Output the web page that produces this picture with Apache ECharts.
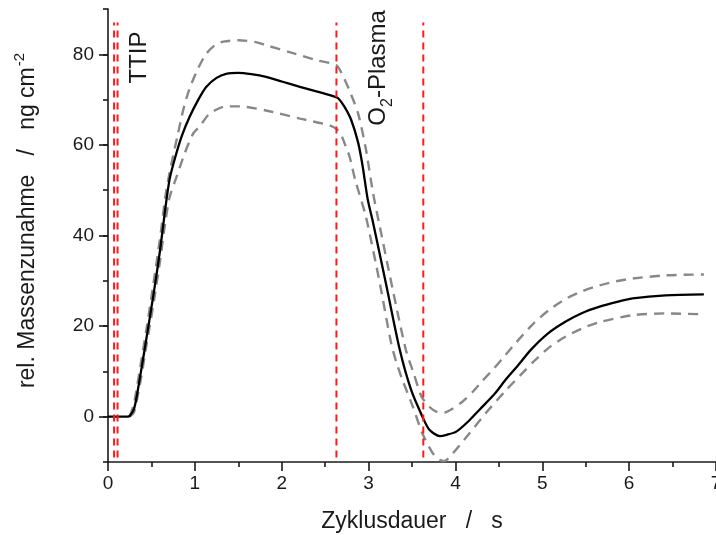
<!DOCTYPE html>
<html>
<head>
<meta charset="utf-8">
<script src="https://cdn.jsdelivr.net/npm/echarts@6/dist/echarts.min.js"></script>
<style>
html,body{margin:0;padding:0;background:#fff;}
#chart{width:716px;height:535px;}
</style>
</head>
<body>
<div id="chart"></div>
<script>
// ---- data ----
const timeMain = [0, 0.1, 0.2, 0.25, 0.3, 0.33, 0.38, 0.44, 0.52, 0.60, 0.66, 0.71, 0.77, 0.85, 0.94, 1.04, 1.13, 1.25, 1.36, 1.5, 1.65, 1.82, 2.0, 2.21, 2.42, 2.6, 2.65, 2.72, 2.8, 2.88, 2.93, 2.99, 3.05, 3.2, 3.36, 3.49, 3.62, 3.70, 3.82, 3.9, 4.01, 4.15, 4.28, 4.45, 4.58, 4.72, 4.87, 5.06, 5.27, 5.46, 5.66, 5.85, 6.04, 6.42, 6.86];
const massMain = [0, 0, 0, 0.2, 1.8, 4.4, 10, 17, 26.5, 36.8, 46, 52.5, 57, 62, 66.2, 70, 72.8, 74.8, 75.7, 75.9, 75.6, 75, 74, 72.8, 71.7, 70.7, 70.3, 68.5, 65.5, 60.5, 55.5, 48, 43, 29.4, 14.7, 5.9, 0, -2.9, -4.3, -4.0, -3.3, -1, 1.6, 5.0, 8.2, 11.3, 14.8, 18.3, 21.0, 22.9, 24.3, 25.3, 26.1, 26.8, 27.0];

const timeUpper = [0.25, 0.3, 0.38, 0.44, 0.52, 0.60, 0.66, 0.71, 0.8, 0.87, 0.94, 1.04, 1.13, 1.23, 1.33, 1.5, 1.7, 1.82, 2.09, 2.4, 2.63, 2.70, 2.78, 2.88, 2.97, 3.05, 3.13, 3.28, 3.43, 3.52, 3.61, 3.7, 3.78, 3.87, 3.97, 4.08, 4.2, 4.31, 4.45, 4.54, 4.7, 4.89, 5.08, 5.27, 5.46, 5.66, 5.85, 6.04, 6.42, 6.86];
const massUpper = [0, 3, 12, 19, 29, 39.5, 48.5, 54, 62, 68, 72.5, 77, 80.1, 82, 82.8, 83.1, 82.7, 82, 80.5, 78.7, 77.6, 75.4, 72, 66.9, 59, 49.5, 41.9, 27.9, 14.7, 9.5, 4.4, 2.2, 1.1, 0.9, 1.8, 3.3, 5.5, 7.9, 10.8, 12.8, 16.4, 20.4, 23.6, 26.0, 27.7, 29.0, 29.9, 30.5, 31.2, 31.4];

const timeLower = [0.25, 0.3, 0.38, 0.44, 0.52, 0.6, 0.66, 0.71, 0.79, 0.88, 0.98, 1.06, 1.17, 1.36, 1.52, 1.82, 2.21, 2.55, 2.65, 2.70, 2.74, 2.78, 2.85, 2.97, 3.13, 3.26, 3.32, 3.39, 3.51, 3.62, 3.74, 3.82, 3.87, 3.97, 4.16, 4.35, 4.58, 4.81, 4.89, 5.08, 5.27, 5.46, 5.66, 6.04, 6.42, 6.86];
const massLower = [0, 1, 8.5, 15.5, 24.5, 34.5, 43, 48.5, 53, 58, 62.5, 64.2, 66.9, 68.5, 68.5, 67.6, 65.8, 64.3, 63.2, 61.5, 59.5, 57.5, 52, 44.1, 29.4, 16.2, 12, 8.1, 2.2, -3.7, -8.1, -9.5, -9.8, -8.1, -3.7, 0.8, 5.8, 10.4, 12.0, 15.3, 17.7, 19.5, 20.9, 22.4, 22.8, 22.6];

const markerTimes = [0.07, 0.11, 2.63, 3.63];
const markerSpan = [-9, 87];

const xTickValues = [0, 1, 2, 3, 4, 5, 6, 7];
const yTickValues = [0, 20, 40, 60, 80];

const xTitle = 'Zyklusdauer   /   s';
const yTitleMain = 'rel. Massenzunahme   /   ng cm';
const yTitleSup = '-2';
const labelTTIP = 'TTIP';
const labelO2 = ['O', '2', '-Plasma'];
const labelTTIPPos = [0.36, 79.3];
const labelO2Pos = [3.14, 77];

// ---- chart ----
const FONT = '"Liberation Sans", Arial, Helvetica, sans-serif';
const pairs = (xs, ys) => xs.map((x, i) => [x, ys[i]]);

const chart = echarts.init(document.getElementById('chart'), null, {renderer: 'canvas'});

const markerSeries = markerTimes.map(t => ({
  type: 'line',
  data: markerSpan.map(v => [t, v]),
  symbol: 'none',
  silent: true,
  z: 5,
  lineStyle: {color: '#ff1a1a', width: 2, type: [7, 5]}
}));

const SMOOTH = 0.25;

const option = {
  animation: false,
  backgroundColor: '#ffffff',
  grid: {left: 108, right: 0, top: 9, bottom: 73, containLabel: false, outerBoundsMode: 'none'},
  xAxis: {
    type: 'value',
    min: 0, max: 7, interval: 1,
    name: xTitle,
    nameLocation: 'middle',
    nameGap: 48,
    nameTextStyle: {fontFamily: FONT, fontSize: 23, color: '#1a1a1a'},
    axisLine: {show: true, onZero: false, lineStyle: {color: '#1a1a1a', width: 1.6}},
    axisTick: {show: true, inside: false, length: 9, lineStyle: {color: '#1a1a1a', width: 1.6}},
    minorTick: {show: true, splitNumber: 2, length: 5, lineStyle: {color: '#1a1a1a', width: 1.6}},
    splitLine: {show: false},
    minorSplitLine: {show: false},
    axisLabel: {
      fontFamily: FONT, fontSize: 19, color: '#1a1a1a', margin: 12,
      formatter: v => (xTickValues.indexOf(v) >= 0 ? String(v) : '')
    }
  },
  yAxis: [{
    type: 'value',
    min: -10, max: 90, interval: 10,
    position: 'left',
    axisLine: {show: true, onZero: false, lineStyle: {color: '#1a1a1a', width: 1.6}},
    axisTick: {show: true, inside: false, length: 5, lineStyle: {color: '#1a1a1a', width: 1.6}},
    axisLabel: {show: false},
    splitLine: {show: false}
  }, {
    type: 'value',
    min: -10, max: 90, interval: 10,
    position: 'left',
    name: '{n|' + yTitleMain + '}{s|' + yTitleSup + '}',
    nameLocation: 'middle',
    nameGap: 69,
    nameTextStyle: {
      fontFamily: FONT, fontSize: 23, color: '#1a1a1a',
      padding: [0, 0, 0, 30],
      rich: {
        n: {fontFamily: FONT, fontSize: 23, color: '#1a1a1a', lineHeight: 27, verticalAlign: 'bottom'},
        s: {fontFamily: FONT, fontSize: 15, color: '#1a1a1a', lineHeight: 27, verticalAlign: 'top', padding: [0, 0, 10, 1]}
      }
    },
    axisLine: {show: false},
    axisTick: {show: true, inside: false, length: 9, customValues: yTickValues, lineStyle: {color: '#1a1a1a', width: 1.6}},
    axisLabel: {fontFamily: FONT, fontSize: 19, color: '#1a1a1a', margin: 14, customValues: yTickValues},
    splitLine: {show: false}
  }],
  series: [{
    type: 'line',
    data: pairs(timeUpper, massUpper),
    symbol: 'none', smooth: SMOOTH,
    lineStyle: {color: '#888888', width: 2.4, type: [10, 7]},
    z: 2
  }, {
    type: 'line',
    data: pairs(timeLower, massLower),
    symbol: 'none', smooth: SMOOTH,
    lineStyle: {color: '#888888', width: 2.4, type: [10, 7]},
    z: 2
  }, {
    type: 'line',
    data: pairs(timeMain, massMain),
    symbol: 'none', smooth: SMOOTH,
    lineStyle: {color: '#000000', width: 2.3},
    z: 3
  }].concat(markerSeries)
};

chart.setOption(option);

const pTTIP = chart.convertToPixel({gridIndex: 0}, labelTTIPPos);
const pO2 = chart.convertToPixel({gridIndex: 0}, labelO2Pos);
chart.setOption({
  graphic: [{
    type: 'text',
    x: pTTIP[0], y: pTTIP[1],
    rotation: Math.PI / 2,
    style: {text: labelTTIP, fontFamily: FONT, fontSize: 24, fill: '#1a1a1a', align: 'center', verticalAlign: 'middle'}
  }, {
    type: 'text',
    x: pO2[0], y: pO2[1],
    rotation: Math.PI / 2,
    style: {
      text: '{n|' + labelO2[0] + '}{s|' + labelO2[1] + '}{n|' + labelO2[2] + '}',
      align: 'center', verticalAlign: 'middle',
      rich: {
        n: {fontFamily: FONT, fontSize: 24, fill: '#1a1a1a', lineHeight: 29, verticalAlign: 'top'},
        s: {fontFamily: FONT, fontSize: 16, fill: '#1a1a1a', lineHeight: 16, verticalAlign: 'bottom'}
      }
    }
  }]
});
</script>
</body>
</html>
